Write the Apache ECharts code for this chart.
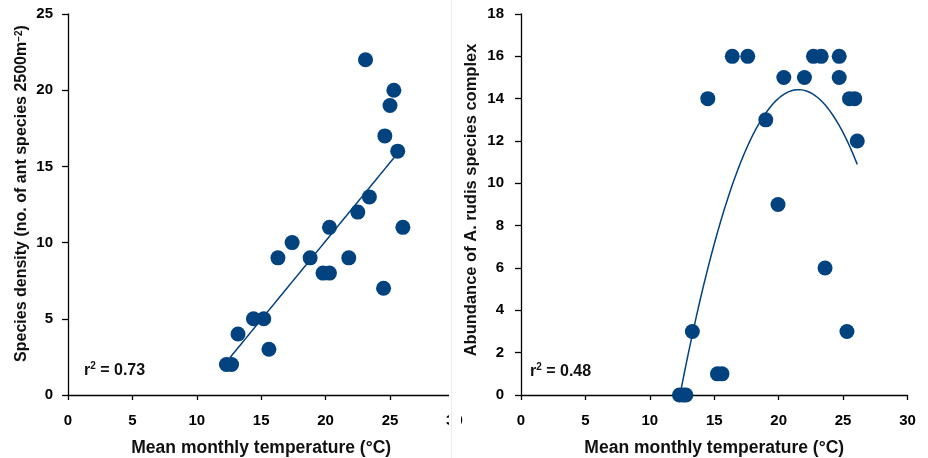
<!DOCTYPE html>
<html>
<head>
<meta charset="utf-8">
<script src="https://cdn.jsdelivr.net/npm/echarts@6/dist/echarts.min.js"></script>
<style>
html,body{margin:0;padding:0;background:#fff;}
#c{width:928px;height:458px;}
</style>
</head>
<body>
<div id="c"></div>
<script>
// ---- data ----
var leftTemp = [12.3, 12.7, 13.2, 14.4, 15.2, 15.6, 16.3, 17.4, 18.8, 19.8, 20.3, 20.3, 21.8, 22.5, 23.1, 23.4, 24.5, 24.6, 25.0, 25.3, 25.6, 26.0];
var leftDensity = [2, 2, 4, 5, 5, 3, 9, 10, 9, 8, 8, 11, 9, 12, 22, 13, 7, 17, 19, 20, 16, 11];
var leftFitCoef = [-10.5, 1.03];          // intercept, slope
var leftFitRange = [12.6, 25.6];

var rightTemp = [12.3, 12.6, 12.8, 13.3, 14.5, 15.25, 15.6, 16.4, 17.6, 19.0, 19.95, 20.4, 22.0, 22.7, 23.3, 23.6, 24.7, 24.7, 25.3, 25.5, 25.9, 26.1];
var rightAbund = [0, 0, 0, 3, 14, 1, 1, 16, 16, 13, 9, 15, 15, 16, 16, 6, 16, 15, 3, 14, 14, 12];
var rightFitCoef = [-64.58, 7.334, -0.1702]; // a + b x + c x^2
var rightFitRange = [12.4, 26.1];

var leftR2 = '0.73';
var rightR2 = '0.48';

// ---- build ----
function pts(xs, ys){ return xs.map(function(x,i){return [x, ys[i]];}); }
function fitLine(coef, range, step){
  var out = [];
  for (var x = range[0]; x <= range[1] + 1e-9; x += step){
    var y = 0;
    for (var k = 0; k < coef.length; k++) y += coef[k] * Math.pow(x, k);
    out.push([+x.toFixed(3), y]);
  }
  return out;
}

var blue = '#02427e';
var font = 'Liberation Sans';
var txt = '#111';

function xAx(gi){
  return {
    type:'value', gridIndex:gi, min:0, max:30, interval:5,
    name:'Mean monthly temperature (°C)', nameLocation:'middle', nameGap:44,
    nameTextStyle:{fontFamily:font, fontWeight:'bold', fontSize:17.5, color:txt},
    axisLine:{show:true, onZero:false, lineStyle:{color:'#000', width:1.3}},
    axisTick:{show:true, length:5, lineStyle:{color:'#000', width:1.3}},
    axisLabel:{fontFamily:font, fontWeight:'bold', fontSize:15, color:'#000', margin:18},
    splitLine:{show:false}
  };
}

function r2Text(x, y, val){
  return {type:'text', left:x, top:y, z:50,
    style:{text:'{a|r}{s|2}{a| = ' + val + '}', rich:{
      a:{fontFamily:font, fontWeight:'bold', fontSize:16, lineHeight:19, fill:txt},
      s:{fontFamily:font, fontWeight:'bold', fontSize:10, lineHeight:11, verticalAlign:'top', fill:txt}}}};
}

var option = {
  backgroundColor:'#fff',
  animation:false,
  grid:[
    {left:68, top:14, width:386.4, height:381, outerBoundsMode:'none', containLabel:false},
    {left:521, top:14, width:386.5, height:381, outerBoundsMode:'none', containLabel:false}
  ],
  xAxis:[xAx(0), xAx(1)],
  yAxis:[
    {
      type:'value', gridIndex:0, min:0, max:25, interval:5,
      name:'Species density (no. of ant species 2500m{sup|\u22122})', nameLocation:'middle', nameGap:38,
      nameTextStyle:{fontFamily:font, fontWeight:'bold', fontSize:16, color:txt, padding:[0,0,0,22],
        rich:{sup:{fontFamily:font, fontWeight:'bold', fontSize:10, color:txt, verticalAlign:'top', lineHeight:10}}},
      axisLine:{show:true, lineStyle:{color:'#000', width:1.3}},
      axisTick:{show:true, length:6, lineStyle:{color:'#000', width:1.3}},
      axisLabel:{fontFamily:font, fontWeight:'bold', fontSize:15, color:'#000', margin:15},
      splitLine:{show:false}
    },
    {
      type:'value', gridIndex:1, min:0, max:18, interval:2,
      name:'Abundance of A. rudis species complex', nameLocation:'middle', nameGap:41,
      nameTextStyle:{fontFamily:font, fontWeight:'bold', fontSize:16.5, color:txt, padding:[0,0,0,9]},
      axisLine:{show:true, lineStyle:{color:'#000', width:1.3}},
      axisTick:{show:true, length:6, lineStyle:{color:'#000', width:1.3}},
      axisLabel:{fontFamily:font, fontWeight:'bold', fontSize:15, color:'#000', margin:17},
      splitLine:{show:false}
    }
  ],
  series:[
    {type:'line', xAxisIndex:0, yAxisIndex:0, data:fitLine(leftFitCoef, leftFitRange, 0.1),
     showSymbol:false, symbol:'none', lineStyle:{color:blue, width:1.5}, z:3},
    {type:'scatter', xAxisIndex:0, yAxisIndex:0, data:pts(leftTemp, leftDensity),
     symbolSize:15, itemStyle:{color:blue, opacity:1}, z:4},
    {type:'line', xAxisIndex:1, yAxisIndex:1, data:fitLine(rightFitCoef, rightFitRange, 0.1),
     showSymbol:false, symbol:'none', lineStyle:{color:blue, width:1.5}, z:3},
    {type:'scatter', xAxisIndex:1, yAxisIndex:1, data:pts(rightTemp, rightAbund),
     symbolSize:15, itemStyle:{color:blue, opacity:1}, z:4}
  ],
  graphic:[
    {type:'rect', left:449, top:0, z:100, shape:{width:12, height:458}, style:{fill:'#fff'}},
    {type:'rect', left:451, top:0, z:101, shape:{width:1, height:458}, style:{fill:'#ececec'}},
    r2Text(84, 361, leftR2),
    r2Text(530, 362, rightR2)
  ]
};

var chart = echarts.init(document.getElementById('c'), null, {renderer:'canvas'});
chart.setOption(option);
</script>
</body>
</html>
